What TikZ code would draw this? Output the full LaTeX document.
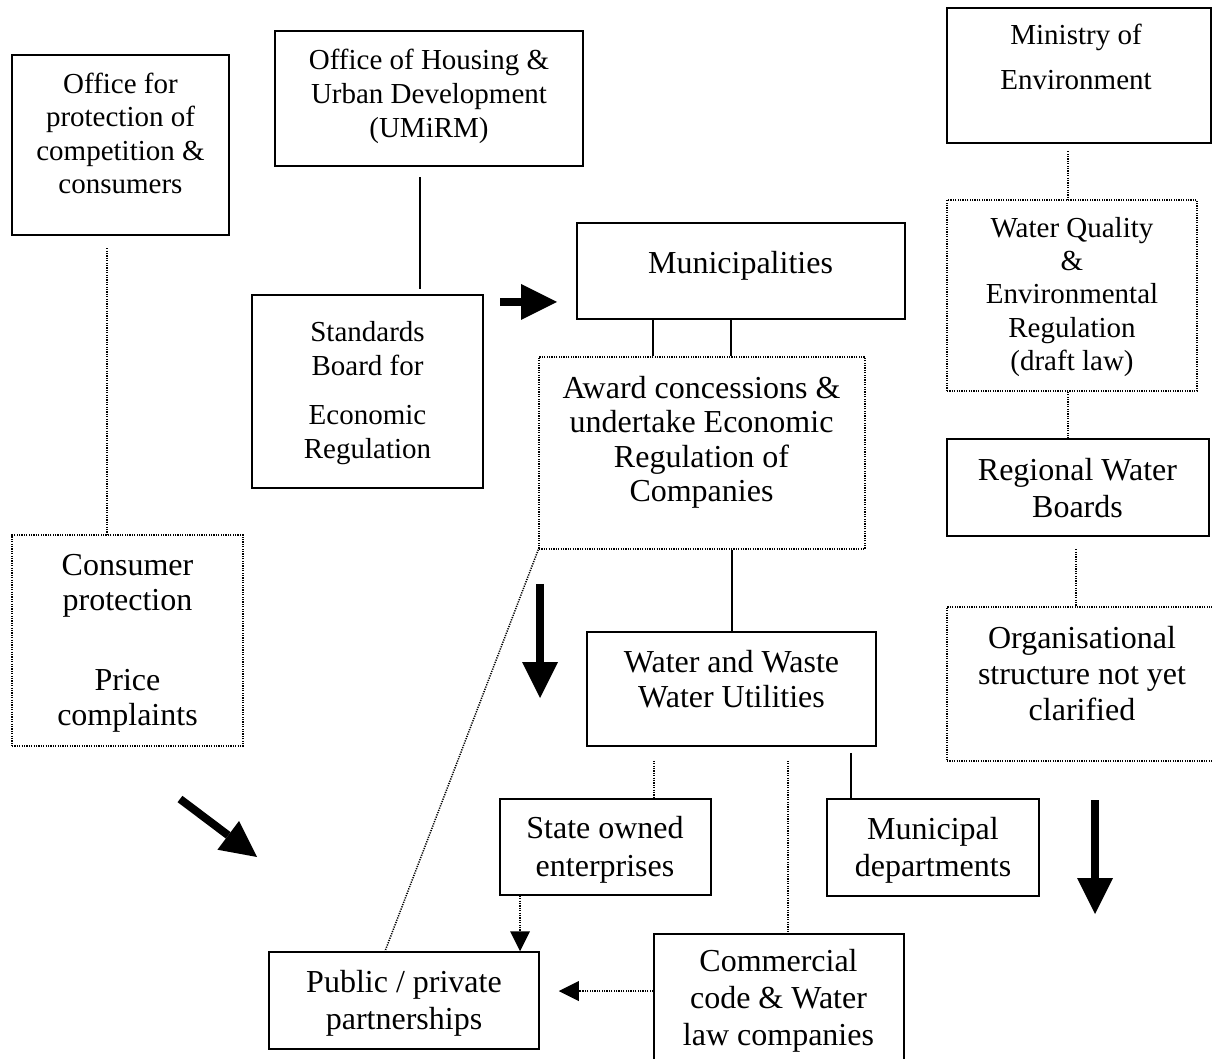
\documentclass[tikz,border=0pt]{standalone}
\usepackage{fontspec}
\setmainfont{Liberation Serif}
\usetikzlibrary{arrows.meta}

\tikzset{
  box/.style={draw=black, rectangle, inner sep=0pt},
  heavybox/.style={box, line width=1.15pt},
  lightbox/.style={box, line width=0.75pt},
  dotbox/.style={box, line width=0.75pt, dash pattern=on 0.6pt off 0.6pt},
  txt/.style={align=center, inner sep=0pt,
    execute at begin node=\strut, execute at end node=\strut},
  fsmall/.style={font=\fontsize{14.5pt}{#1}\selectfont},
  flarge/.style={font=\fontsize{16pt}{#1}\selectfont},
  link/.style={line width=0.95pt},
  dotlink/.style={line width=0.75pt, dash pattern=on 0.6pt off 0.6pt},
  dotarrow/.style={dotlink, -{Triangle[length=10pt,width=10pt,line width=0pt]}},
  blockarrow/.style={line width=4pt, -{Triangle[length=18pt,width=18pt,line width=0pt]}},
}

\begin{document}
\begin{tikzpicture}[x=0.5pt, y=-0.5pt]
\useasboundingbox (0,0) rectangle (1212,1059);

% left column
\node[heavybox, minimum width=108.5pt, minimum height=90pt] (ofc) at (120.5,145) {};
\node[txt, fsmall=16.65pt] (ofc-t) at (120.5,138.3)
  {Office for\\protection of\\competition \&\\consumers};

\node[dotbox, minimum width=115.5pt, minimum height=105.5pt] (cpp) at (127.5,640.5) {};
\node[txt, flarge=17.5pt] (cpp-t) at (127.5,645)
  {Consumer\\protection\\[22.5pt]Price\\complaints};

% housing office and standards board
\node[heavybox, minimum width=154pt, minimum height=67.5pt] (hud) at (429,98.5) {};
\node[txt, fsmall=17.1pt] (hud-t) at (429,98.7)
  {Office of Housing \&\\Urban Development\\(UMiRM)};

\node[heavybox, minimum width=115.5pt, minimum height=96.5pt] (sbe) at (367.5,391.5) {};
\node[txt, fsmall=17pt] (sbe-t) at (367.5,394.7)
  {Standards\\Board for\\[7.5pt]Economic\\Regulation};

% municipalities branch
\node[heavybox, minimum width=164pt, minimum height=48pt] (mun) at (741,271) {};
\node[txt, flarge=18.4pt] (mun-t) at (740.5,266.3) {Municipalities};

\node[dotbox, minimum width=163pt, minimum height=96pt] (awd) at (702,453) {};
\node[txt, flarge=17.15pt] (awd-t) at (701.5,443.9)
  {Award concessions \&\\undertake Economic\\Regulation of\\Companies};

\node[lightbox, minimum width=144.5pt, minimum height=57pt] (wwu) at (731.5,689) {};
\node[txt, flarge=17.5pt] (wwu-t) at (731.5,684.5)
  {Water and Waste\\Water Utilities};

\node[lightbox, minimum width=105.5pt, minimum height=48pt] (soe) at (605.5,847) {};
\node[txt, flarge=19pt] (soe-t) at (605,851.9) {State owned\\enterprises};

\node[lightbox, minimum width=106pt, minimum height=48.5pt] (mdp) at (933,847.5) {};
\node[txt, flarge=18.5pt] (mdp-t) at (933,852.8) {Municipal\\departments};

\node[lightbox, minimum width=135pt, minimum height=48.5pt] (ppp) at (404,1000.5) {};
\node[txt, flarge=18.5pt] (ppp-t) at (404,1005.1) {Public / private\\partnerships};

\node[lightbox, minimum width=125pt, minimum height=65pt] (ccw) at (779,999) {};
\node[txt, flarge=18.5pt] (ccw-t) at (778.5,1003.3)
  {Commercial\\code \& Water\\law companies};

% environment branch
\node[heavybox, minimum width=132pt, minimum height=67.5pt] (moe) at (1079,75.5) {};
\node[txt, fsmall=22.5pt] (moe-t) at (1076,63.4) {Ministry of\\Environment};

\node[dotbox, minimum width=125pt, minimum height=95.5pt] (wqr) at (1072,295.5) {};
\node[txt, fsmall=16.6pt] (wqr-t) at (1072,298.9)
  {Water Quality\\\&\\Environmental\\Regulation\\(draft law)};

\node[heavybox, minimum width=131pt, minimum height=48.5pt] (rwb) at (1078,487.5) {};
\node[txt, flarge=18.5pt] (rwb-t) at (1077.5,493.1) {Regional Water\\Boards};

\node[dotbox, minimum width=133.5pt, minimum height=77pt] (org) at (1080.5,684) {};
\node[txt, flarge=18pt] (org-t) at (1082,678.8)
  {Organisational\\structure not yet\\clarified};

% connectors
\draw[dotlink, shorten <=6pt] ([xshift=-6.75pt]ofc.south) -- ([xshift=-10.25pt]cpp.north);
\draw[link, shorten <=5pt, shorten >=2.5pt] ([xshift=-4.5pt]hud.south) -- ([xshift=26.25pt]sbe.north);
\draw[link] ([xshift=-44pt]mun.south) -- ([xshift=-24.5pt]awd.north);
\draw[link] ([xshift=-5pt]mun.south) -- ([xshift=14.5pt]awd.north);
\draw[link] ([xshift=15pt]awd.south) -- ([xshift=0.25pt]wwu.north);
\draw[dotlink, shorten <=3.5pt] ([xshift=-5.5pt]moe.south) -- ([xshift=-2pt]wqr.north);
\draw[dotlink] ([xshift=-2pt]wqr.south) -- ([xshift=-5pt]rwb.north);
\draw[dotlink, shorten <=6pt] ([xshift=-1pt]rwb.south) -- ([xshift=-2.25pt]org.north);
\draw[dotlink, shorten <=7pt] ([xshift=-38.75pt]wwu.south) -- ([xshift=24.25pt]soe.north);
\draw[dotlink, shorten <=7pt] ([xshift=28.25pt]wwu.south) -- ([xshift=4.5pt]ccw.north);
\draw[link, shorten <=3pt] ([xshift=59.75pt]wwu.south) -- ([xshift=-41pt]mdp.north);
\draw[dotlink] (awd.south west) -- ([xshift=-9.5pt]ppp.north);
\draw[dotarrow] ([xshift=-42.75pt]soe.south) -- ([xshift=58pt]ppp.north);
\draw[dotarrow, shorten >=9.5pt] ([yshift=4pt]ccw.west) -- ([yshift=4.75pt]ppp.east);

% block arrows
\coordinate (ra) at (500,302);  \coordinate (rb) at (557,302);
\coordinate (da) at (540,584);  \coordinate (db) at (540,698);
\coordinate (ga) at (180,799);  \coordinate (gb) at (257,857);
\coordinate (ea) at (1095,800); \coordinate (eb) at (1095,914);
\draw[blockarrow] (ra) -- (rb);
\draw[blockarrow] (da) -- (db);
\draw[blockarrow] (ga) -- (gb);
\draw[blockarrow] (ea) -- (eb);
\end{tikzpicture}
\end{document}
